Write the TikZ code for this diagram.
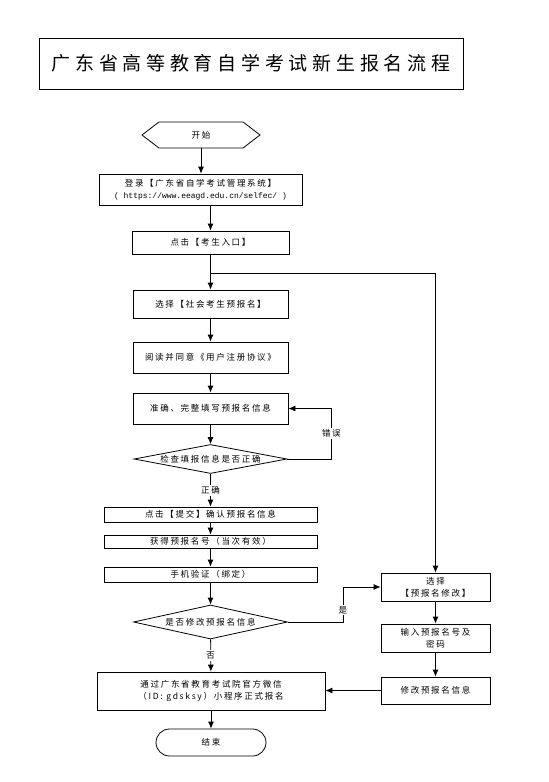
\documentclass[tikz,border=0pt]{standalone}
\usepackage{fontspec}
\setmainfont{Noto Sans CJK SC}[LetterSpace=20]
\newfontfamily\urlfont{Liberation Mono}
\usetikzlibrary{shapes.geometric, shapes.symbols, arrows.meta, positioning}
\tikzset{
	box/.style={draw, line width=0.8pt, inner sep=1pt, align=center, font=\fontsize{8.5}{12}\selectfont},
	decision/.style={diamond, draw, line width=0.8pt, inner sep=0pt, aspect=5, font=\fontsize{8.5}{12}\selectfont},
	flow/.style={draw, line width=0.8pt, -{Latex[length=7pt,width=6pt]}},
	note/.style={fill=white, inner sep=1.5pt, font=\fontsize{8.5}{12}\selectfont}
}

\begin{document}
\begin{tikzpicture}[x=1pt,y=-1pt]
\useasboundingbox (0,0) rectangle (549,782);
{%\footnotesize
\node[draw, line width=1pt, minimum width=424, minimum height=51, font=\fontsize{19}{22}\selectfont\addfontfeature{LetterSpace=25}] (title) at (251,63.5) {广东省高等教育自学考试新生报名流程};
\node[box, signal, signal to=west and east, signal pointer angle=75, minimum width=118, minimum height=26] (start) at (201,135) {开始};
\node[box, minimum width=203, minimum height=31] (login) at (200.5,189.5) {登录【广东省自学考试管理系统】\\{\urlfont\fontsize{8}{10}\selectfont( https://www.eeagd.edu.cn/selfec/ )}};
\node[box, minimum width=157, minimum height=23] (click) at (210.5,242.5) {点击【考生入口】};
\node[box, minimum width=155, minimum height=28] (select) at (210.5,304) {选择【社会考生预报名】};
\node[box, minimum width=155, minimum height=31] (read) at (210.5,357.5) {阅读并同意《用户注册协议》};
\node[box, minimum width=155, minimum height=31] (fill) at (210.5,408.5) {准确、完整填写预报名信息};
\node[decision, minimum width=153, minimum height=29] (check) at (210.5,459) {检查填报信息是否正确};
\node[box, minimum width=213, minimum height=15] (submit) at (210.5,514.5) {点击【提交】确认预报名信息};
\node[box, minimum width=213, minimum height=13] (number) at (210.5,541.5) {获得预报名号（当次有效）};
\node[box, minimum width=213, minimum height=15] (phone) at (210.5,574.5) {手机验证（绑定）};
\node[decision, minimum width=154, minimum height=34] (modify) at (210.5,622) {是否修改预报名信息};
\node[box, minimum width=228, minimum height=38] (wechat) at (211,691) {通过广东省教育考试院官方微信\\（ID: gdsksy）小程序正式报名};
\node[box, rounded corners=13.5, minimum width=110, minimum height=27] (finish) at (211,742.5) {结束};
\node[box, minimum width=109, minimum height=28] (choose) at (435.5,587) {选择\\【预报名修改】};
\node[box, minimum width=109, minimum height=28] (input) at (435.5,638) {输入预报名号及\\密码};
\node[box, minimum width=109, minimum height=27] (change) at (435.5,690.5) {修改预报名信息};
\coordinate (split) at (210.5,273);
}

\path[flow] (start.south) -- (start.south |- login.north);
\path[flow] (login.south -| click) -- (click);
\path[flow] (click) -- (select);
\path[flow] (split) -| (choose);
\path[flow] (select) -- (read);
\path[flow] (read) -- (fill);
\path[flow] (fill) -- (check);
\path[flow] (check.east) -- ++(44,0) |- (fill.east) node [note, pos=0.25] {错误};
\path[flow] (check) -- (submit) node [note, midway] {正确};
\path[flow] (submit) -- (number);
\path[flow] (number) -- (phone);
\path[flow] (phone) -- (modify);
\path[flow] (modify.east) -- ++(55,0) |- (choose.west) node [note, pos=0.17] {是};
\path[flow] (modify) -- (wechat) node [note, midway] {否};
\path[flow] (wechat) -- (finish);
\path[flow] (choose) -- (input);
\path[flow] (input) -- (change);
\path[flow] (change) -- (change -| wechat.east);
\end{tikzpicture}
\end{document}
